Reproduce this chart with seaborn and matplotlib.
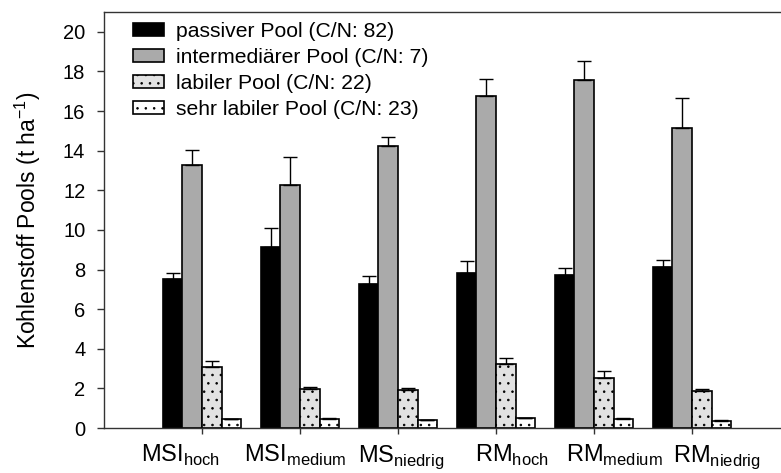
import numpy as np
import pandas as pd
import matplotlib
matplotlib.use("Agg")
import matplotlib.pyplot as plt
import seaborn as sns

# Treatments (x groups) and their labels
categories = ["MSI_hoch", "MSI_medium", "MS_niedrig", "RM_hoch", "RM_medium", "RM_niedrig"]
tick_labels = [r"MSI$_\mathregular{hoch}$", r"MSI$_\mathregular{medium}$", r"MS$_\mathregular{niedrig}$",
               r"RM$_\mathregular{hoch}$", r"RM$_\mathregular{medium}$", r"RM$_\mathregular{niedrig}$"]

# Carbon pools (t/ha) with standard errors
pools = ["passiver Pool (C/N: 82)", "intermediärer Pool (C/N: 7)",
         "labiler Pool (C/N: 22)", "sehr labiler Pool (C/N: 23)"]
passiv = [7.54, 9.16, 7.26, 7.81, 7.73, 8.11]
passiv_err = [0.29, 0.96, 0.40, 0.64, 0.37, 0.36]
intermediaer = [13.27, 12.29, 14.26, 16.78, 17.56, 15.13]
intermediaer_err = [0.74, 1.41, 0.42, 0.85, 0.99, 1.55]
labil = [3.08, 1.95, 1.92, 3.25, 2.54, 1.85]
labil_err = [0.28, 0.10, 0.09, 0.27, 0.34, 0.10]
sehr_labil = [0.45, 0.47, 0.40, 0.49, 0.47, 0.37]
sehr_labil_err = [0.03, 0.03, 0.02, 0.03, 0.03, 0.02]

values = [passiv, intermediaer, labil, sehr_labil]
errors = [passiv_err, intermediaer_err, labil_err, sehr_labil_err]

df = pd.DataFrame({
    "Behandlung": np.tile(categories, len(pools)),
    "Pool": np.repeat(pools, len(categories)),
    "C": np.concatenate(values),
})

sns.set_style("ticks")
plt.rcParams["font.family"] = ["Liberation Sans", "DejaVu Sans"]
plt.rcParams["hatch.linewidth"] = 0.6
for key in ["text.color", "axes.labelcolor", "xtick.color", "ytick.color"]:
    plt.rcParams[key] = "black"

fig = plt.figure(figsize=(7.81, 4.73), dpi=100)
ax = fig.add_axes([0.1332, 0.0951, 0.8668, 0.8795])

fills = ["#000000", "#aaaaaa", "#e2e2e2", "#ffffff"]
hatches = [None, None, "..", ".."]

sns.barplot(data=df, x="Behandlung", y="C", hue="Pool", order=categories,
            hue_order=pools, palette=fills, errorbar=None, width=0.8,
            saturation=1, edgecolor="black", linewidth=1.2, ax=ax, legend=False)

for cont, h, err in zip(ax.containers, hatches, errors):
    xs, ys = [], []
    for p in cont.patches:
        if h:
            p.set_hatch(h)
        xs.append(p.get_x() + p.get_width() / 2)
        ys.append(p.get_height())
    ax.errorbar(xs, ys, yerr=[np.zeros(len(err)), err], fmt="none",
                ecolor="black", elinewidth=1.0, capsize=5, capthick=1.0, zorder=3)

ax.legend(ax.containers, pools, loc="upper left", bbox_to_anchor=(0.03, 0.996),
          frameon=False, fontsize=15.2, handlelength=1.5, handleheight=0.6,
          handletextpad=0.55, labelspacing=0.33, borderaxespad=0.0)

ax.set_xlim(-1.0, 5.908)
ax.set_ylim(0, 21)
ax.set_yticks(np.arange(0, 21, 2))
ax.set_xticks(range(len(categories)))
ax.set_xticklabels([])

# group labels, set slightly off their tick marks (offsets in pixels)
label_shift = [-22, -5, 3, 16, 20, 25]
for i, (txt, dx) in enumerate(zip(tick_labels, label_shift)):
    ax.annotate(txt, xy=(i, 0), xycoords=("data", "axes fraction"),
                xytext=(dx * 0.72, -34 * 0.72), textcoords="offset points",
                ha="center", va="baseline", fontsize=17)

ax.tick_params(axis="y", labelsize=14.5, length=5, width=1, direction="out",
               pad=8.5, color="#333333")
ax.tick_params(axis="x", length=4, width=1, direction="out", color="#333333")
ax.set_xlabel("")
ax.set_ylabel(r"Kohlenstoff Pools (t ha$^\mathregular{-1}$)", fontsize=16.5, labelpad=14)

for side in ["left", "bottom", "top"]:
    ax.spines[side].set_color("#333333")
    ax.spines[side].set_linewidth(1.0)
ax.spines["right"].set_visible(False)

fig.savefig("out.png", dpi=100)
